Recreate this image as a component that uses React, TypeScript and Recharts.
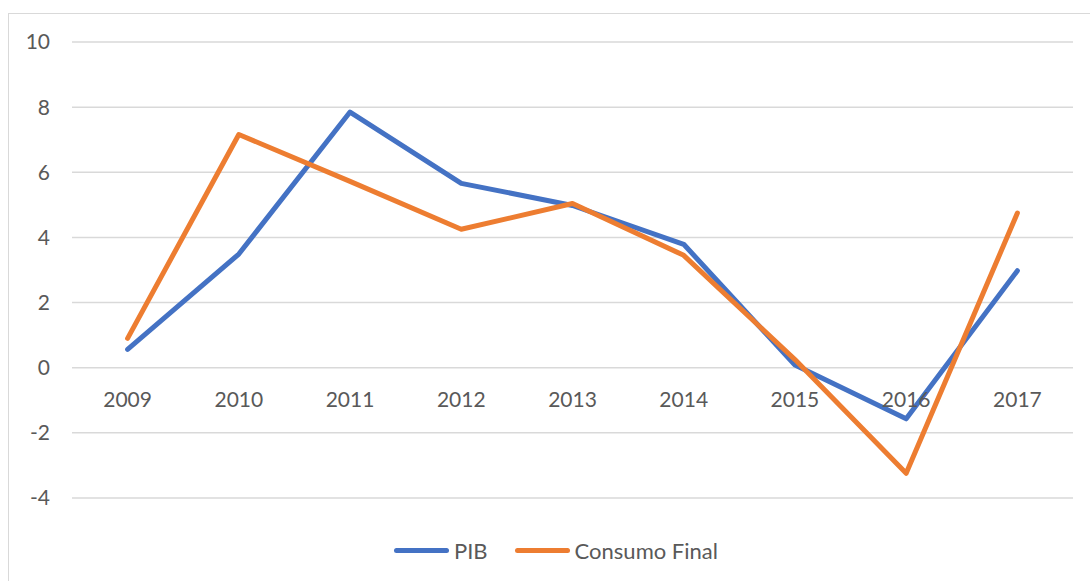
import { CartesianGrid, Line, LineChart, XAxis, YAxis } from 'recharts'

const years = ['2009', '2010', '2011', '2012', '2013', '2014', '2015', '2016', '2017']
const pib = [0.56, 3.49, 7.85, 5.66, 4.98, 3.79, 0.08, -1.57, 2.98]
const consumoFinal = [0.9, 7.16, 5.72, 4.25, 5.04, 3.45, 0.25, -3.24, 4.75]
const yTicks = [-4, -2, 0, 2, 4, 6, 8, 10]

const data = years.map((year, i) => ({
  year,
  pib: pib[i],
  consumo: consumoFinal[i],
}))

const BLUE = '#4472C4'
const ORANGE = '#ED7D31'
const TEXT = '#595959'
const FONT = 'Lato, "Open Sans", sans-serif'

const W = 1082
const H = 568
const PLOT_TOP = 28
const PLOT_BOTTOM = 484
const Y_MIN = -4
const Y_MAX = 10
// category labels sit just under the zero line, Excel style
const ZERO_Y = PLOT_TOP + ((PLOT_BOTTOM - PLOT_TOP) * Y_MAX) / (Y_MAX - Y_MIN)

function YearTick({ x, payload }: { x?: number; payload?: { value: string } }) {
  return (
    <text
      x={x}
      y={ZERO_Y + 34}
      textAnchor="middle"
      dominantBaseline="middle"
      fill={TEXT}
      fontSize={21}
      fontFamily={FONT}
    >
      {payload?.value}
    </text>
  )
}

function LegendItem({ color, label, gap }: { color: string; label: string; gap: number }) {
  return (
    <div style={{ display: 'flex', alignItems: 'center', marginRight: gap }}>
      <div style={{ width: 55, height: 5, borderRadius: 3, background: color, marginRight: 5 }} />
      <span>{label}</span>
    </div>
  )
}

export default function App() {
  return (
    <div
      style={{
        position: 'absolute',
        left: 8,
        top: 13,
        width: W,
        height: H,
        borderTop: '1px solid #d9d9d9',
        borderLeft: '1px solid #d9d9d9',
        background: '#fff',
      }}
    >
      <LineChart
        width={W}
        height={H}
        data={data}
        margin={{ top: PLOT_TOP, right: 18, bottom: H - PLOT_BOTTOM - 20, left: 0 }}
      >
        <CartesianGrid vertical={false} stroke="#d9d9d9" strokeWidth={1.5} />
        <XAxis
          dataKey="year"
          height={20}
          axisLine={false}
          tickLine={false}
          padding={{ left: 55.6, right: 55.6 }}
          tick={<YearTick />}
          interval={0}
        />
        <YAxis
          width={63}
          domain={[Y_MIN, Y_MAX]}
          ticks={yTicks}
          axisLine={false}
          tickLine={false}
          tickSize={0}
          tickMargin={22}
          tick={{ fill: TEXT, fontSize: 21, fontFamily: FONT }}
        />
        <Line
          dataKey="pib"
          name="PIB"
          stroke={BLUE}
          strokeWidth={5}
          strokeLinejoin="round"
          strokeLinecap="round"
          dot={false}
          activeDot={false}
          isAnimationActive={false}
        />
        <Line
          dataKey="consumo"
          name="Consumo Final"
          stroke={ORANGE}
          strokeWidth={5}
          strokeLinejoin="round"
          strokeLinecap="round"
          dot={false}
          activeDot={false}
          isAnimationActive={false}
        />
      </LineChart>
      <div
        style={{
          position: 'absolute',
          left: 385,
          top: 523,
          display: 'flex',
          alignItems: 'center',
          color: TEXT,
          fontSize: 22,
          fontFamily: FONT,
        }}
      >
        <LegendItem color={BLUE} label="PIB" gap={27} />
        <LegendItem color={ORANGE} label="Consumo Final" gap={0} />
      </div>
    </div>
  )
}
